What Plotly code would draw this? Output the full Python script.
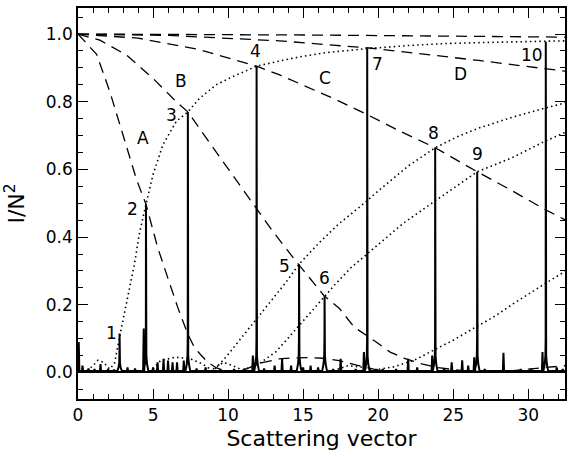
import plotly.graph_objects as go

# ---- measured Bragg peaks (position, normalised intensity) ----
peak_q = [2.77, 4.53, 7.32, 11.90, 14.73, 16.43, 19.27, 23.80, 26.60, 31.17]
peak_h = [0.115, 0.497, 0.770, 0.905, 0.320, 0.225, 0.957, 0.664, 0.593, 0.977]
peak_labels = ["1", "2", "3", "4", "5", "6", "7", "8", "9", "10"]

# small spurious features along the baseline
minor_q = [0.05, 0.30, 0.70, 1.10, 1.50, 2.00, 2.40, 3.30, 3.80, 4.38, 5.00, 5.30,
           5.70, 6.00, 6.30, 6.60, 7.05, 7.90, 8.50, 9.50, 10.40, 11.10, 11.65, 12.40,
           13.10, 13.60, 14.20, 15.00, 15.50, 16.00, 17.00, 17.50, 18.50, 19.05, 20.30,
           21.20, 22.00, 22.60, 23.60, 24.40, 24.90, 25.60, 26.00, 26.40, 27.10, 28.35,
           29.50, 30.20, 30.95, 31.90, 32.30]
minor_h = [0.090, 0.020, 0.012, 0.010, 0.025, 0.010, 0.008, 0.015, 0.012, 0.130, 0.015, 0.030,
           0.040, 0.035, 0.030, 0.030, 0.035, 0.012, 0.015, 0.010, 0.010, 0.012, 0.050, 0.012,
           0.020, 0.040, 0.020, 0.015, 0.020, 0.015, 0.010, 0.040, 0.010, 0.060, 0.010,
           0.010, 0.040, 0.015, 0.050, 0.012, 0.030, 0.036, 0.020, 0.045, 0.010, 0.058,
           0.010, 0.010, 0.060, 0.015, 0.010]

# ---- dashed model curves A-D and the uppermost one ----
A_q = [0, 1.24, 2.12, 3.0, 3.9, 4.53, 5.31, 5.97, 6.64, 7.3, 7.74, 8.1, 8.6, 9.2, 9.8,
       10.3, 11.2, 12.1, 13.4, 14.3, 15.3, 16.3, 17.4, 18.5, 19.7, 20.7]
A_v = [1.0, 0.94, 0.83, 0.705, 0.57, 0.497, 0.369, 0.281, 0.193, 0.115, 0.075, 0.056, 0.032,
       0.014, 0.004, 0.0, 0.01, 0.027, 0.04, 0.043, 0.044, 0.042, 0.035, 0.022, 0.01, 0.004]
B_q = [0, 1.46, 3.23, 5.0, 6.55, 7.32, 8.54, 10.3, 11.86, 12.96, 14.5, 15.4, 16.43, 17.4,
       18.4, 19.7, 20.8, 21.8, 22.9, 24.0, 25.5, 27.0, 28.5, 30.0, 31.5, 32.5]
B_v = [1.0, 0.982, 0.938, 0.869, 0.80, 0.77, 0.693, 0.585, 0.487, 0.418, 0.33, 0.281, 0.225,
       0.19, 0.134, 0.095, 0.06, 0.041, 0.025, 0.014, 0.006, 0.002, 0.003, 0.01, 0.016, 0.02]
C_q = [0, 4, 8, 11.9, 13.4, 14.7, 17.0, 19.27, 21.5, 23.8, 26.6, 29.0, 31.1, 32.5]
C_v = [1.0, 0.988, 0.955, 0.905, 0.88, 0.855, 0.81, 0.762, 0.712, 0.664, 0.593, 0.535,
       0.482, 0.45]
D_q = [0, 6, 13.4, 19.6, 26.7, 31.1, 32.5]
D_v = [1.0, 0.996, 0.98, 0.958, 0.922, 0.899, 0.89]
E_q = [0, 16, 32.5]
E_v = [1.0, 0.997, 0.991]

# ---- dotted curves ----
P1_q = [0.6, 1.0, 1.33, 1.7, 2.1, 2.43, 2.77, 3.1, 3.43, 3.76, 4.09, 4.42, 4.53, 5.0, 5.66,
        6.55, 7.32, 8.1, 9.2, 10.3, 11.9, 13.4, 14.7, 16.5, 19.27, 22.0, 24.5, 28.0, 31.1, 32.5]
P1_v = [0.005, 0.02, 0.036, 0.03, 0.01, 0.026, 0.105, 0.174, 0.242, 0.32, 0.41, 0.48, 0.497,
        0.585, 0.673, 0.742, 0.77, 0.81, 0.85, 0.874, 0.905, 0.92, 0.932, 0.945, 0.957, 0.966,
        0.972, 0.976, 0.979, 0.98]
P2_q = [5.0, 5.5, 6.5, 7.5, 8.3, 9.0, 9.87, 10.75, 11.63, 12.52, 13.18, 13.85, 14.73, 16.0,
        17.4, 18.8, 20.26, 22.0, 23.8, 25.2, 26.7, 29.0, 31.1, 32.5]
P2_v = [0.01, 0.035, 0.045, 0.04, 0.025, 0.004, 0.046, 0.095, 0.144, 0.193, 0.232, 0.266, 0.32,
        0.38, 0.44, 0.49, 0.546, 0.61, 0.664, 0.695, 0.722, 0.755, 0.781, 0.797]
P3_q = [9.0, 9.7, 10.3, 10.97, 12.08, 13.18, 14.07, 14.73, 15.61, 16.43, 17.17, 18.2, 19.27,
        20.4, 21.65, 23.8, 25.2, 26.6, 28.9, 31.1, 32.5]
P3_v = [0.01, 0.03, 0.02, 0.007, 0.026, 0.061, 0.105, 0.139, 0.183, 0.225, 0.262, 0.31, 0.35,
        0.395, 0.44, 0.507, 0.55, 0.593, 0.634, 0.683, 0.71]
P4_q = [17.0, 18.0, 19.0, 19.7, 21.0, 22.4, 23.7, 25.0, 26.3, 27.7, 29.0, 30.0, 31.1, 32.5]
P4_v = [0.005, 0.02, 0.015, 0.007, 0.016, 0.036, 0.066, 0.095, 0.129, 0.164, 0.203, 0.232,
        0.262, 0.30]

curve_names = ["A", "B", "C", "D"]
curve_label_q = [4.31, 6.88, 16.46, 25.46]
curve_label_v = [0.692, 0.86, 0.871, 0.881]

FONT = "DejaVu Sans"
X_MAX = 32.45


def spectrum(pq, ph, mq, mh):
    """Assemble the measured pattern as one polyline of narrow peaks."""
    feats = [(q, h, True) for q, h in zip(pq, ph)] + [(q, h, False) for q, h in zip(mq, mh)]
    feats.sort()
    xs, ys = [0.0], [0.004]
    for q, h, major in feats:
        if major:
            foot = min(0.05, 0.25 * h)
            prof = [(-0.16, 0.004), (-0.07, foot * 0.5), (-0.025, foot), (-0.008, foot * 2.0),
                    (0.0, h), (0.008, foot * 2.0), (0.025, foot), (0.07, foot * 0.5),
                    (0.16, 0.004)]
        else:
            prof = [(-0.04, 0.004), (0.0, h), (0.04, 0.004)]
        for dq, v in prof:
            xs.append(q + dq)
            ys.append(v)
    xs.append(X_MAX)
    ys.append(0.004)
    return xs, ys


fig = go.Figure()

dash_style = dict(color="black", width=1.3, dash="11px,7px")
dot_style = dict(color="black", width=1.6, dash="1.5px,3.2px")

for q, v in [(A_q, A_v), (B_q, B_v), (C_q, C_v), (D_q, D_v), (E_q, E_v)]:
    fig.add_trace(go.Scatter(x=q, y=v, mode="lines", line=dash_style, hoverinfo="skip"))
for q, v in [(P1_q, P1_v), (P2_q, P2_v), (P3_q, P3_v), (P4_q, P4_v)]:
    fig.add_trace(go.Scatter(x=q, y=v, mode="lines", line=dot_style, hoverinfo="skip"))

sx, sy = spectrum(peak_q, peak_h, minor_q, minor_h)
fig.add_trace(go.Scatter(x=sx, y=sy, mode="lines",
                         line=dict(color="black", width=2.0), hoverinfo="skip"))

# peak numbers beside each peak top
label_shift = [(-8, 1), (-13, -5), (-16, -3), (-1, 15), (-15, -2),
               (0, 18), (10, -15), (-2, 15), (0, 18), (-14, -13)]
for q, h, t, (dx, dy) in zip(peak_q, peak_h, peak_labels, label_shift):
    fig.add_annotation(x=q, y=h, text=t, showarrow=False, xshift=dx, yshift=dy,
                       font=dict(family=FONT, size=17, color="black"))
for t, q, v in zip(curve_names, curve_label_q, curve_label_v):
    fig.add_annotation(x=q, y=v, text=t, showarrow=False,
                       font=dict(family=FONT, size=17, color="black"))

axis_common = dict(showline=True, linecolor="black", linewidth=1.5, mirror="ticks",
                   ticks="inside", ticklen=10, tickwidth=1.2, tickcolor="black",
                   showgrid=False, tickfont=dict(family=FONT, size=17, color="black"))

fig.update_xaxes(range=[0, X_MAX], tick0=0, dtick=5, zeroline=False,
                 minor=dict(dtick=1, ticks="inside", ticklen=5, tickwidth=1.1,
                            tickcolor="black", showgrid=False),
                 title=dict(text="Scattering vector", font=dict(family=FONT, size=22, color="black"),
                            standoff=6),
                 **axis_common)
fig.update_yaxes(range=[-0.0785, 1.077], tick0=0, dtick=0.2, tickformat=".1f",
                 zeroline=True, zerolinecolor="black", zerolinewidth=2,
                 minor=dict(dtick=0.05, ticks="inside", ticklen=5, tickwidth=1.1,
                            tickcolor="black", showgrid=False),
                 title=dict(text="I/N<sup>2</sup>", font=dict(family=FONT, size=22, color="black"),
                            standoff=15),
                 **axis_common)

fig.update_layout(width=573, height=457, margin=dict(l=78, r=6, t=6, b=58),
                  paper_bgcolor="white", plot_bgcolor="white", showlegend=False)

fig.write_html("out.html")
